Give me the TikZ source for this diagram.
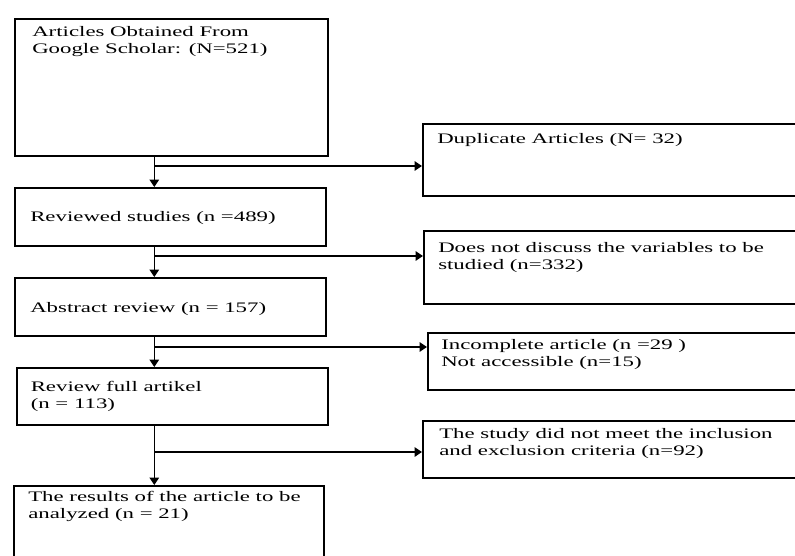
\documentclass[tikz,border=0pt]{standalone}
\usepackage{fontspec}
\setmainfont{Liberation Serif}[FakeStretch=1.57]
\usetikzlibrary{arrows.meta}
\tikzset{
  box/.style={draw=black, line width=1.2pt, fill=none, inner sep=0pt, anchor=north west},
  txt/.style={inner sep=0pt, anchor=north west, align=left,
    font=\fontsize{10.9}{12.75}\selectfont, execute at begin node=\strut},
  arr/.style={draw=black, line width=1.2pt, -{Triangle[length=5.5pt,width=7pt]}},
  ln/.style={draw=black, line width=1.2pt}
}
\begin{document}
\begin{tikzpicture}[x=0.75pt,y=-0.75pt]
\useasboundingbox (0,0) rectangle (795,556);
\clip (0,0) rectangle (795,556);
\fill[white] (0,0) rectangle (795,556);
% left column boxes
\node[box, minimum width={313*0.75pt}, minimum height={137*0.75pt}] (b1) at (14,18) {};
\node[box, minimum width={311*0.75pt}, minimum height={58*0.75pt}] (b2) at (14,187) {};
\node[box, minimum width={311*0.75pt}, minimum height={58*0.75pt}] (b3) at (14,277) {};
\node[box, minimum width={311*0.75pt}, minimum height={57*0.75pt}] (b4) at (16,367) {};
\node[box, minimum width={310*0.75pt}, minimum height={90*0.75pt}] (b5) at (13,485) {};
% right column boxes
\node[box, minimum width={390*0.75pt}, minimum height={72*0.75pt}] (d1) at (422,123) {};
\node[box, minimum width={390*0.75pt}, minimum height={73*0.75pt}] (d2) at (423,230) {};
\node[box, minimum width={390*0.75pt}, minimum height={57*0.75pt}] (d3) at (427,332) {};
\node[box, minimum width={390*0.75pt}, minimum height={57*0.75pt}] (d4) at (422,420) {};
% texts
\node[txt] (t1) at (32,26.4) {Articles Obtained From\\Google Scholar: (N=521)};
\node[txt] (t2) at (30,209.8) {Reviewed studies (n =489)};
\node[txt] (t3) at (30,300.1) {Abstract review (n = 157)};
\node[txt] (t4) at (30.5,380.8) {Review full artikel\\(n = 113)};
\node[txt] (t5) at (28,490.8) {The results of the article to be\\analyzed (n = 21)};
\node[txt] (u1) at (437,131.1) {Duplicate Articles (N= 32)};
\node[txt] (u2) at (438,242.4) {Does not discuss the variables to be\\studied (n=332)};
\node[txt] (u3) at (441,339.1) {Incomplete article (n =29 )\\Not accessible (n=15)};
\node[txt] (u4) at (439,428.1) {The study did not meet the inclusion\\and exclusion criteria (n=92)};
% junctions
\coordinate (j1) at (154.3,166);
\coordinate (j2) at (154.3,256);
\coordinate (j3) at (154.3,347);
\coordinate (j4) at (154.3,452);
% connectors
\draw[arr] (b1.south -| j1) -- (b2.north -| j1);
\draw[arr] (j1) -- (d1.west |- j1);
\draw[arr] (b2.south -| j2) -- (b3.north -| j2);
\draw[arr] (j2) -- (d2.west |- j2);
\draw[arr] (b3.south -| j3) -- (b4.north -| j3);
\draw[arr] (j3) -- (d3.west |- j3);
\draw[arr] (b4.south -| j4) -- (b5.north -| j4);
\draw[arr] (j4) -- (d4.west |- j4);
\end{tikzpicture}
\end{document}
